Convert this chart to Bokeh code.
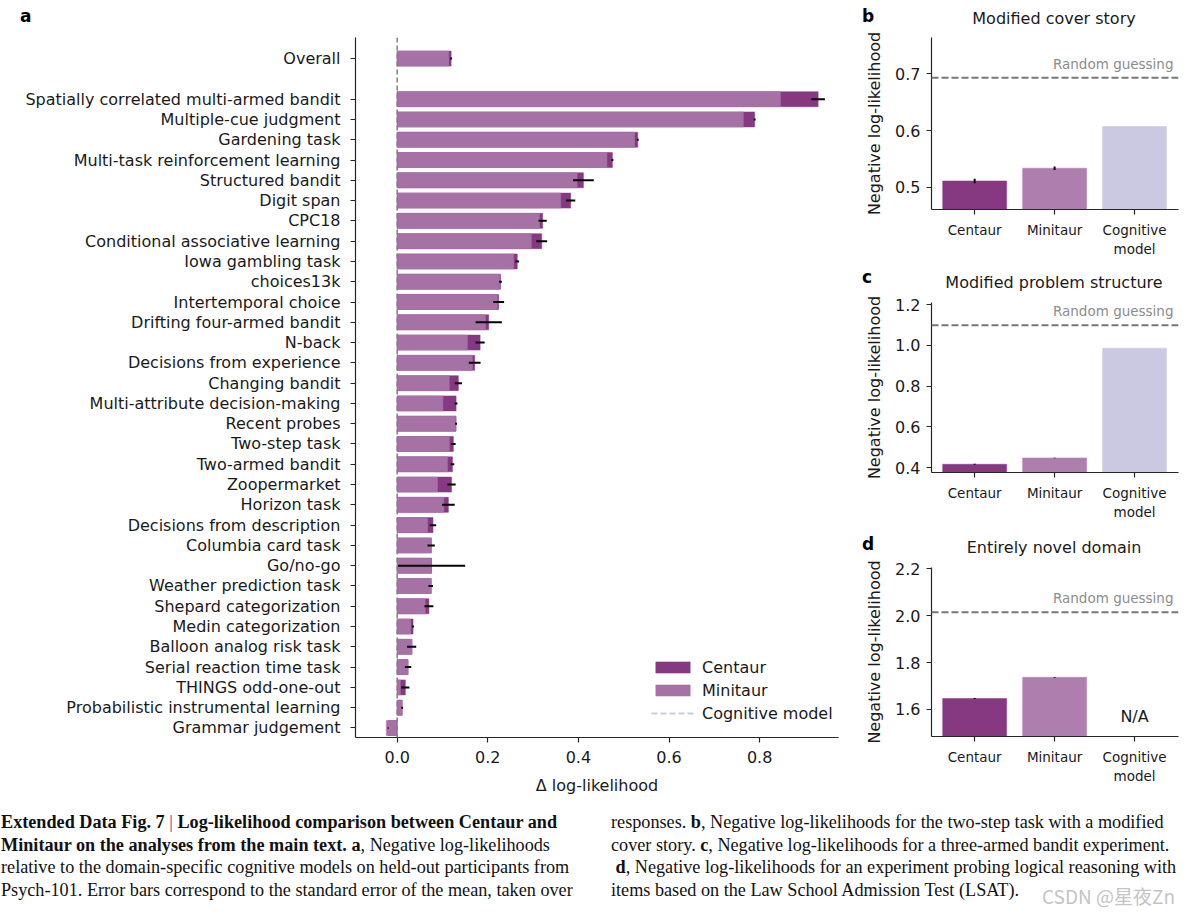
from bokeh.plotting import figure
from bokeh.models import (Range1d, FixedTicker, Span, Label, Legend, LegendItem,
                          ColumnDataSource, Div)
from bokeh.layouts import row, column
from bokeh.embed import file_html
from bokeh.resources import INLINE

# ---------------- data: panel a ----------------
tasks = ["Overall",
         "Spatially correlated multi-armed bandit", "Multiple-cue judgment", "Gardening task",
         "Multi-task reinforcement learning", "Structured bandit", "Digit span", "CPC18",
         "Conditional associative learning", "Iowa gambling task", "choices13k",
         "Intertemporal choice", "Drifting four-armed bandit", "N-back",
         "Decisions from experience", "Changing bandit", "Multi-attribute decision-making",
         "Recent probes", "Two-step task", "Two-armed bandit", "Zoopermarket", "Horizon task",
         "Decisions from description", "Columbia card task", "Go/no-go",
         "Weather prediction task", "Shepard categorization", "Medin categorization",
         "Balloon analog risk task", "Serial reaction time task", "THINGS odd-one-out",
         "Probabilistic instrumental learning", "Grammar judgement"]
minitaur_a = [0.114,
              0.846, 0.764, 0.524, 0.463, 0.397, 0.361, 0.314, 0.296, 0.257, 0.226,
              0.221, 0.195, 0.155, 0.166, 0.115, 0.101, 0.129, 0.115, 0.111, 0.089,
              0.103, 0.067, 0.076, 0.075, 0.076, 0.062, 0.030, 0.033, 0.024, 0.007,
              0.011, -0.024]
centaur_a = [0.119,
             0.929, 0.789, 0.531, 0.475, 0.411, 0.383, 0.321, 0.319, 0.265, 0.228,
             0.224, 0.202, 0.183, 0.171, 0.135, 0.130, 0.130, 0.124, 0.122, 0.120,
             0.113, 0.079, 0.075, 0.076, 0.074, 0.070, 0.035, 0.032, 0.024, 0.018,
             0.011, -0.020]
centaur_sem_a = [0.002,
                 0.015, 0.002, 0.002, 0.002, 0.023, 0.010, 0.009, 0.012, 0.004, 0.003,
                 0.012, 0.029, 0.010, 0.013, 0.008, 0.003, 0.002, 0.005, 0.004, 0.009,
                 0.014, 0.007, 0.008, 0.074, 0.005, 0.010, 0.002, 0.010, 0.007, 0.009,
                 0.002, 0.001]
ypos = [0] + list(range(2, 2 + len(tasks) - 1))
x_ticks_a = [0.0, 0.2, 0.4, 0.6, 0.8]

# ---------------- data: panels b, c, d ----------------
models = ["Centaur", "Minitaur", "Cognitive\nmodel"]
nll_b = [0.511, 0.5335, 0.607]
sem_b = [0.004, 0.003, 0.0]
rand_b = 0.693
nll_c = [0.416, 0.447, 0.986]
sem_c = [0.002, 0.001, 0.0]
rand_c = 1.0986
nll_d = [1.647, 1.737, None]
sem_d = [0.002, 0.002, 0.0]
rand_d = 2.015

C_CEN = "#863880"
C_MIN_A = "#a672a6"
C_MIN = "#ae7fae"
C_COG = "#cbc9e2"
TXT = "#1a1a1a"
FONT = "DejaVu Sans"


def style_axes(p):
    for ax in (p.xaxis[0], p.yaxis[0]):
        ax.axis_line_color = "#262626"
        ax.axis_line_width = 1.2
        ax.major_tick_line_color = "#262626"
        ax.major_tick_line_width = 1.2
        ax.major_tick_out = 5
        ax.major_tick_in = 0
        ax.minor_tick_line_color = None
        ax.major_label_text_font = FONT
        ax.major_label_text_color = TXT
        ax.axis_label_text_font = FONT
        ax.axis_label_text_font_style = "normal"
        ax.axis_label_text_color = TXT
    p.xgrid.visible = False
    p.ygrid.visible = False
    p.outline_line_color = None


def header(width, height, letter, letter_left, letter_top, title=None,
           title_center=0, title_top=0):
    html = (f"<div style=\"position:relative;width:{width}px;height:{height}px;"
            f"font-family:'DejaVu Sans';\">"
            f"<span style=\"position:absolute;left:{letter_left}px;top:{letter_top}px;"
            f"font-size:17px;line-height:17px;font-weight:bold;color:#000\">{letter}</span>")
    if title:
        html += (f"<span style=\"position:absolute;left:{title_center - 150}px;width:300px;"
                 f"text-align:center;top:{title_top}px;font-size:16px;line-height:16px;"
                 f"color:{TXT};white-space:nowrap\">{title}</span>")
    html += "</div>"
    return Div(text=html, width=width, height=height, margin=0)


# ---------------- panel a ----------------
pa = figure(width=850, height=771, output_backend="svg", toolbar_location=None,
            x_range=Range1d(-0.092, 0.974), y_range=Range1d(33.47, -1.04),
            min_border_left=355, min_border_right=12, min_border_top=8,
            min_border_bottom=63)
style_axes(pa)
src_a = ColumnDataSource(dict(y=ypos, cen=centaur_a, mini=minitaur_a,
                              lo=[c - s for c, s in zip(centaur_a, centaur_sem_a)],
                              hi=[c + s for c, s in zip(centaur_a, centaur_sem_a)]))
r_cen = pa.hbar(y="y", left=0, right="cen", height=0.74, source=src_a,
                fill_color=C_CEN, line_color=C_CEN, line_width=0.5)
r_min = pa.hbar(y="y", left=0, right="mini", height=0.74, source=src_a,
                fill_color=C_MIN_A, line_color=C_MIN_A, line_width=0.5)
pa.segment(x0="lo", x1="hi", y0="y", y1="y", source=src_a, line_color="black",
           line_width=2)
pa.add_layout(Span(location=0, dimension="height", line_color="#7f7f7f",
                   line_width=1.5, line_dash="5 3"))
nan = float("nan")
r_cog = pa.line(x="x", y="y", source=ColumnDataSource(dict(x=[nan], y=[nan])),
                line_color=C_COG, line_width=2, line_dash="6 3")
pa.yaxis.ticker = FixedTicker(ticks=ypos)
pa.yaxis.major_label_overrides = {y: t for y, t in zip(ypos, tasks)}
pa.yaxis.major_label_text_font_size = "16px"
pa.yaxis.major_label_standoff = 10
pa.xaxis.ticker = FixedTicker(ticks=x_ticks_a)
pa.xaxis.major_label_overrides = {v: f"{v:.1f}" for v in x_ticks_a}
pa.xaxis.major_label_text_font_size = "16px"
pa.xaxis.major_label_standoff = 8
pa.xaxis.axis_label = "Δ log-likelihood"
pa.xaxis.axis_label_text_font_size = "16px"
pa.xaxis.axis_label_standoff = 10

legend = Legend(items=[LegendItem(label="Centaur", renderers=[r_cen]),
                       LegendItem(label="Minitaur", renderers=[r_min]),
                       LegendItem(label="Cognitive model", renderers=[r_cog])],
                location=(296, 14), border_line_alpha=0, background_fill_alpha=0,
                padding=0, margin=0, spacing=3, glyph_width=43, glyph_height=14,
                label_height=20, label_standoff=8, label_text_font=FONT,
                label_text_font_size="16px", label_text_color=TXT)
pa.add_layout(legend)
head_a = header(850, 29, "a", 20, 8)


# ---------------- panels b, c, d ----------------
def small_panel(vals, sems, rnd, yr, yticks, height, bottom, na=False):
    p = figure(width=336, height=height, output_backend="svg", toolbar_location=None,
               x_range=Range1d(-0.54, 2.55), y_range=Range1d(*yr),
               min_border_left=81, min_border_right=8, min_border_top=8,
               min_border_bottom=bottom)
    style_axes(p)
    xs = [i for i, v in enumerate(vals) if v is not None]
    src = ColumnDataSource(dict(
        x=xs, top=[vals[i] for i in xs],
        color=[[C_CEN, C_MIN, C_COG][i] for i in xs],
        lo=[vals[i] - sems[i] for i in xs], hi=[vals[i] + sems[i] for i in xs]))
    p.vbar(x="x", top="top", bottom=yr[0] - 1, width=0.8, source=src,
           fill_color="color", line_color="color", line_width=0.5)
    p.segment(x0="x", x1="x", y0="lo", y1="hi", source=src, line_color="black",
              line_width=2)
    p.add_layout(Span(location=rnd, dimension="width", line_color="#777777",
                      line_width=2, line_dash="7 3"))
    p.add_layout(Label(x=242, y=rnd, x_units="screen", y_offset=6,
                       text="Random guessing", text_align="right", text_font=FONT,
                       text_font_size="13.5px", text_color="#8c8c8c"))
    p.xaxis.ticker = FixedTicker(ticks=[0, 1, 2])
    p.xaxis.major_label_overrides = {i: m for i, m in enumerate(models)}
    p.xaxis.major_label_text_font_size = "13.5px"
    p.xaxis.major_label_standoff = 7
    p.yaxis.ticker = FixedTicker(ticks=yticks)
    p.yaxis.major_label_overrides = {v: f"{v:.1f}" for v in yticks}
    p.yaxis.major_label_text_font_size = "16px"
    p.yaxis.major_label_standoff = 6
    p.yaxis.axis_label = "Negative log-likelihood"
    p.yaxis.axis_label_text_font_size = "16px"
    p.yaxis.axis_label_standoff = 8
    if na:
        p.add_layout(Label(x=2, y=11, y_units="screen", text="N/A",
                           text_align="center", text_font=FONT,
                           text_font_size="16px", text_color=TXT))
    return p


pb = small_panel(nll_b, sem_b, rand_b, (0.4607, 0.764), [0.5, 0.6, 0.7], 236, 56)
pc = small_panel(nll_c, sem_c, rand_c, (0.3755, 1.21), [0.4, 0.6, 0.8, 1.0, 1.2],
                 236, 58)
pd = small_panel(nll_d, sem_d, rand_d, (1.4846, 2.206), [1.6, 1.8, 2.0, 2.2], 241, 64,
                 na=True)
head_b = header(336, 29, "b", 12, 8, "Modified cover story", 204, 11)
head_c = header(336, 29, "c", 12, 4, "Modified problem structure", 204, 10)
head_d = header(336, 29, "d", 12, 6, "Entirely novel domain", 204, 10)

# ---------------- caption ----------------
cap_style = ("font-family:'Liberation Serif',serif;font-size:18.2px;line-height:22.7px;"
             "color:#111;white-space:nowrap;padding-top:11px;")
left_html = (f"<div style=\"{cap_style}padding-left:1px\">"
             "<b>Extended Data Fig. 7 <span style='color:#a0306a;font-weight:normal'>|</span> "
             "Log-likelihood comparison between Centaur and<br>"
             "Minitaur on the analyses from the main text.</b> "
             "<b>a</b>, Negative log-likelihoods<br>"
             "relative to the domain-specific cognitive models on held-out participants from<br>"
             "Psych-101. Error bars correspond to the standard error of the mean, taken over"
             "</div>")
right_html = (f"<div style=\"{cap_style}position:relative\">"
              "responses. <b>b</b>, Negative log-likelihoods for the two-step task with a "
              "modified<br>cover story. <b>c</b>, Negative log-likelihoods for a three-armed "
              "bandit experiment.<br>&nbsp;<b>d</b>, Negative log-likelihoods for an "
              "experiment probing logical reasoning with<br>items based on the Law School "
              "Admission Test (LSAT)."
              "<span style=\"position:absolute;left:431px;top:85px;"
              "font-family:'Noto Sans CJK SC',sans-serif;font-size:19px;line-height:22px;"
              "color:#c4c4c4\">CSDN @星夜Zn</span></div>")
div_l = Div(text=left_html, width=611, height=118, margin=0)
div_r = Div(text=right_html, width=583, height=118, margin=0)

layout = column(row(column(head_a, pa), column(head_b, pb, head_c, pc, head_d, pd)),
                row(div_l, div_r))
open("out.html", "w").write(file_html(layout, INLINE))
